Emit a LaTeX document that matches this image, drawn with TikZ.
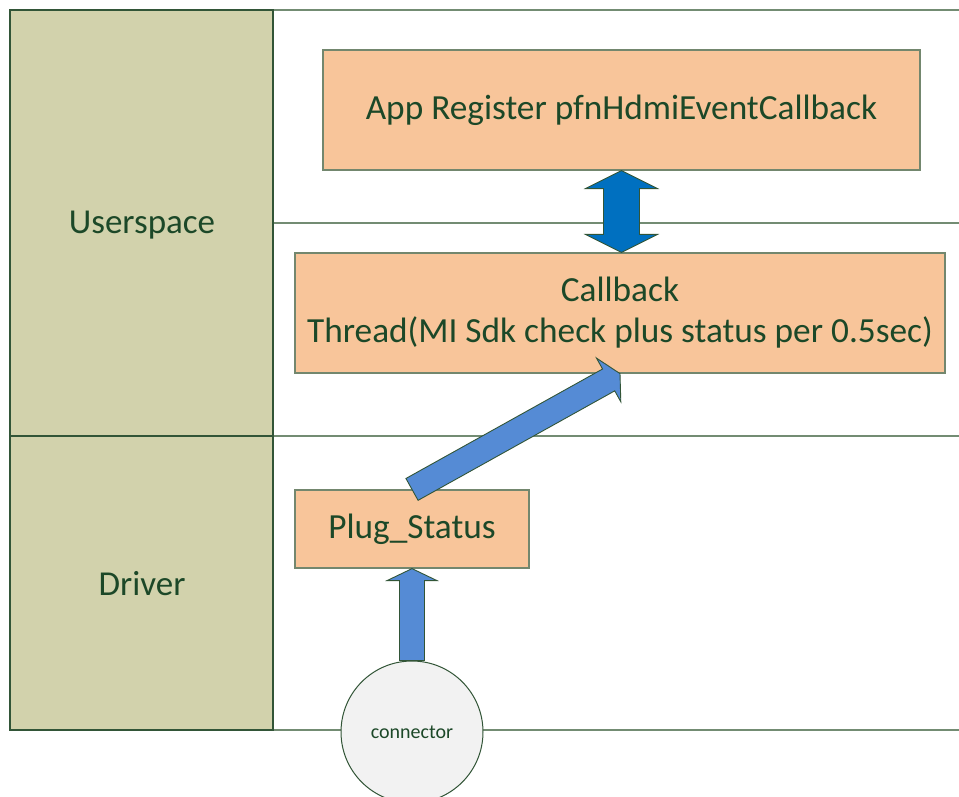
\documentclass[tikz,border=0pt]{standalone}
\usepackage{fontspec}
\setmainfont{Carlito}
\usepackage{tikz}
\usetikzlibrary{calc,positioning}
\definecolor{lanefill}{RGB}{210,210,172}
\definecolor{laneline}{RGB}{115,140,115}
\definecolor{laneedge}{RGB}{50,85,55}
\definecolor{ink}{RGB}{28,72,40}
\definecolor{boxfill}{RGB}{248,197,154}
\definecolor{boxline}{RGB}{115,135,110}
\definecolor{dblblue}{RGB}{0,112,192}
\definecolor{arrblue}{RGB}{85,139,213}
\definecolor{plugfill}{RGB}{242,242,242}

% fat arrow: style, from, to, half shaft, half head, head length
\newcommand{\blockarrow}[6]{%
  \coordinate (neck) at ($(#3)!#6!(#2)$);
  \draw[#1] ($(#2)!#4!90:(#3)$) -- ($(neck)!#4!-90:(#2)$) -- ($(neck)!#5!-90:(#2)$) -- (#3)
    -- ($(neck)!#5!90:(#2)$) -- ($(neck)!#4!90:(#2)$) -- ($(#2)!#4!-90:(#3)$) -- cycle;}
% same with a head at both ends
\newcommand{\dblarrow}[6]{%
  \coordinate (neckA) at ($(#2)!#6!(#3)$);
  \coordinate (neckB) at ($(#3)!#6!(#2)$);
  \draw[#1] (#2) -- ($(neckA)!#5!90:(#3)$) -- ($(neckA)!#4!90:(#3)$) -- ($(neckB)!#4!-90:(#2)$)
    -- ($(neckB)!#5!-90:(#2)$) -- (#3) -- ($(neckB)!#5!90:(#2)$) -- ($(neckB)!#4!90:(#2)$)
    -- ($(neckA)!#4!-90:(#3)$) -- ($(neckA)!#5!-90:(#3)$) -- cycle;}

\begin{document}
\begin{tikzpicture}[x=1pt,y=-1pt,
  lanelabel/.style={font=\fontsize{35}{42}\selectfont,text=ink},
  procbox/.style={draw=boxline,line width=1.2pt,fill=boxfill,inner sep=0pt,text=ink,
    font=\fontsize{35.3}{41}\selectfont,align=center},
  plugnode/.style={circle,draw=laneedge,line width=1pt,fill=plugfill,minimum size=142pt,
    inner sep=0pt,text=ink,font=\fontsize{20}{24}\selectfont},
  fat/.style={draw=laneedge,line width=0.9pt,fill=arrblue,line join=miter}]
  \useasboundingbox (0,0) rectangle (959,796);
  \clip (0,0) rectangle (959,796);
  % lanes
  \fill[lanefill] (10,10) rectangle (273,730);
  \foreach \y in {10,436,730} \draw[laneline,line width=1.3pt] (273,\y) -- (959,\y);
  \draw[laneline,line width=1.3pt] (273,223) -- (959,223);
  \draw[laneedge,line width=1.1pt] (10,10) rectangle (273,730) (10,436) -- (273,436);
  \node[lanelabel] (user) at (142,225) {Userspace};
  \node[lanelabel] (drv) at (142,584) {Driver};
  % boxes
  \node[procbox,minimum width=597pt,minimum height=120pt] (app) at (621.5,110) {App Register pfnHdmiEventCallback};
  \node[procbox,minimum width=650pt,minimum height=120pt] (cb) at (620,313) {Callback\\Thread(MI Sdk check plus status per 0.5sec)};
  \node[procbox,minimum width=234pt,minimum height=78pt] (plug) at (412,529) {Plug\_Status};
  \node[plugnode] (conn) at (412,732) {connector};
  % arrows
  \dblarrow{fat,fill=dblblue}{app.south}{app.south |- cb.north}{18pt}{36pt}{18pt}
  \blockarrow{fat}{plug.north}{cb.south}{12.5pt}{25pt}{13pt}
  \blockarrow{fat}{conn.north}{plug.south}{12.5pt}{25pt}{12pt}
\end{tikzpicture}
\end{document}
